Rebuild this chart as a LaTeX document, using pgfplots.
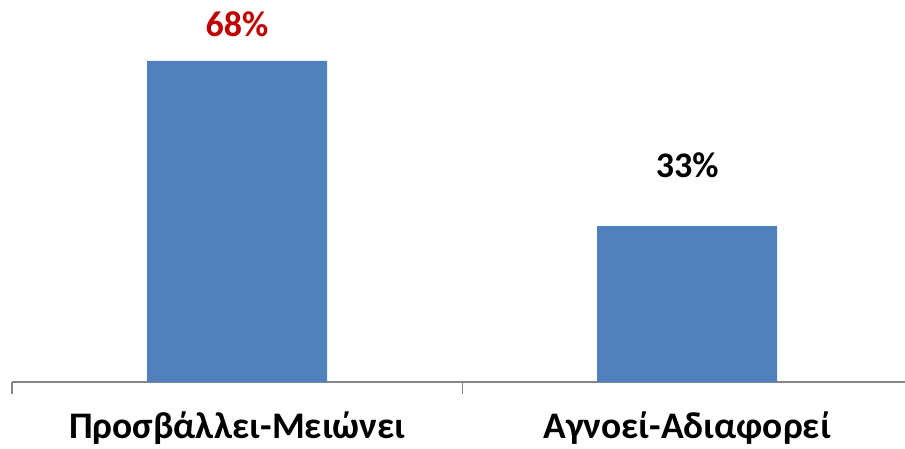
\documentclass[border=0pt]{standalone}
\usepackage{pgfplots}
\pgfplotsset{compat=1.18}
\usepackage{fontspec}
\setmainfont{Carlito}
\definecolor{barblue}{HTML}{4F81BD}
\definecolor{axisgray}{HTML}{868686}
\definecolor{darkred}{HTML}{C00000}
\begin{document}
\begin{tikzpicture}
\useasboundingbox (-12pt,-66pt) rectangle (893pt,382pt);
\begin{axis}[
  scale only axis,
  width=893pt, height=382pt,
  xmin=-0.5, xmax=1.484,
  ymin=0, ymax=80.9,
  axis y line=none,
  axis x line*=bottom,
  x axis line style={axisgray, line width=1.2pt},
  xtick={0,1},
  xticklabels={Προσβάλλει-Μειώνει, Αγνοεί-Αδιαφορεί},
  major tick length=0pt,
  extra x ticks={-0.5,0.5},
  extra x tick labels={},
  extra x tick style={major tick length=12pt, tick style={axisgray, line width=1.2pt}, tick align=outside},
  xticklabel style={font=\fontsize{37.5}{42}\selectfont\bfseries, anchor=base, yshift=-56.5pt},
  clip=false,
]
\addplot[ybar, bar width=180pt, fill=barblue, draw=none] coordinates {(0,68) (1,33)};
\node[font=\fontsize{36}{40}\selectfont\bfseries, text=darkred] at (axis cs:0,75.8) {68\%};
\node[font=\fontsize{36}{40}\selectfont\bfseries, text=black] at (axis cs:1,46.0) {33\%};
\end{axis}
\end{tikzpicture}
\end{document}
